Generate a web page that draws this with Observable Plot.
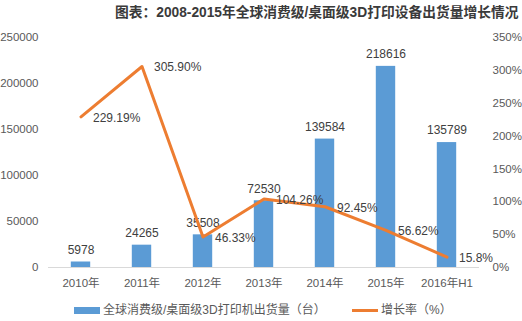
<!DOCTYPE html>
<html>
<head>
<meta charset="utf-8">
<script src="https://cdn.jsdelivr.net/npm/d3@7"></script>
<script src="https://cdn.jsdelivr.net/npm/@observablehq/plot@0.6"></script>
<style>
  html, body { margin: 0; padding: 0; background: #fff; }
  #wrap { position: relative; width: 522px; height: 321px; overflow: hidden; }
  #title { position: absolute; left: 115px; top: 1px; white-space: nowrap;
    font: bold 14px "Liberation Sans", "Noto Sans CJK SC", sans-serif; color: #3a3a3a; }
  .leg { position: absolute; top: 300px; white-space: nowrap;
    font: 12px "Liberation Sans", "Noto Sans CJK SC", sans-serif; color: #595959; }
  .sw { display: inline-block; vertical-align: middle; margin-right: 3px; }
</style>
</head>
<body>
<div id="wrap">
  <div id="title"></div>
  <div id="chart"></div>
  <div class="leg" id="leg1" style="left:74px"></div>
  <div class="leg" id="leg2" style="left:352px"></div>
</div>
<script>
const titleText = "图表：2008-2015年全球消费级/桌面级3D打印设备出货量增长情况";
const categories = ["2010年", "2011年", "2012年", "2013年", "2014年", "2015年", "2016年H1"];
const shipments = [5978, 24265, 35508, 72530, 139584, 218616, 135789];
const growthRates = [229.19, 305.90, 46.33, 104.26, 92.45, 56.62, 15.8];
const growthLabels = ["229.19%", "305.90%", "46.33%", "104.26%", "92.45%", "56.62%", "15.8%"];
const leftTicks = [0, 50000, 100000, 150000, 200000, 250000];
const rightTicks = [0, 50, 100, 150, 200, 250, 300, 350];
const seriesNames = ["全球消费级/桌面级3D打印机出货量（台）", "增长率（%）"];
const barColor = "#5B9BD5";
const lineColor = "#ED7D31";

const leftMax = 250000, rightMax = 350;
const k = leftMax / rightMax;

const data = categories.map((c, i) => ({
  cat: c, value: shipments[i], rate: growthRates[i], rateLabel: growthLabels[i]
}));

const titleEl = document.getElementById("title");
titleEl.textContent = titleText;
// keep the title inside the window (reference shows it flush to the right edge)
let fs = 14;
while (titleEl.getBoundingClientRect().width > 408 && fs > 12) {
  fs -= 0.25;
  titleEl.style.fontSize = fs + "px";
}
titleEl.style.left = Math.min(115, 521 - titleEl.getBoundingClientRect().width) + "px";

const chart = Plot.plot({
  width: 522,
  height: 321,
  marginLeft: 48,
  marginRight: 43,
  marginTop: 37,
  marginBottom: 54,
  style: { fontFamily: '"Liberation Sans", "Noto Sans CJK SC", sans-serif', fontSize: "11px", color: "#595959", background: "transparent" },
  x: { domain: categories, padding: 0, label: null },
  y: { domain: [0, leftMax], label: null },
  marks: [
    Plot.barY(data, { x: "cat", y: "value", fill: barColor, insetLeft: 20.8, insetRight: 20.8 }),
    Plot.ruleY([0], { stroke: "#d9d9d9", strokeWidth: 1 }),
    Plot.axisX({ tickSize: 0, tickPadding: 11, fontSize: 11.5, fill: "#595959" }),
    Plot.axisY({ ticks: leftTicks, tickSize: 0, tickPadding: 10, tickFormat: d => String(d), fontSize: 11.5, fill: "#595959", label: null }),
    Plot.axisY({ anchor: "right", ticks: rightTicks.map(t => t * k), tickSize: 0, tickPadding: 13, tickFormat: d => Math.round(d / k) + "%", fontSize: 11.5, fill: "#595959", label: null }),
    Plot.text(data, { x: "cat", y: "value", text: d => String(d.value), dy: -12, fill: "#404040", fontSize: 12 }),
    Plot.line(data, { x: "cat", y: d => d.rate * k, stroke: lineColor, strokeWidth: 3, strokeLinejoin: "round" }),
    Plot.text(data, { x: "cat", y: d => d.rate * k, text: "rateLabel", dx: 12, dy: 1, textAnchor: "start", fill: "#404040", fontSize: 12 })
  ]
});
document.getElementById("chart").appendChild(chart);

const l1 = document.getElementById("leg1");
l1.innerHTML = `<span class="sw" style="width:26px;height:7px;background:${barColor}"></span>`;
l1.appendChild(document.createTextNode(seriesNames[0]));
const l2 = document.getElementById("leg2");
l2.innerHTML = `<span class="sw" style="width:26px;height:3px;background:${lineColor}"></span>`;
l2.appendChild(document.createTextNode(seriesNames[1]));
</script>
</body>
</html>
